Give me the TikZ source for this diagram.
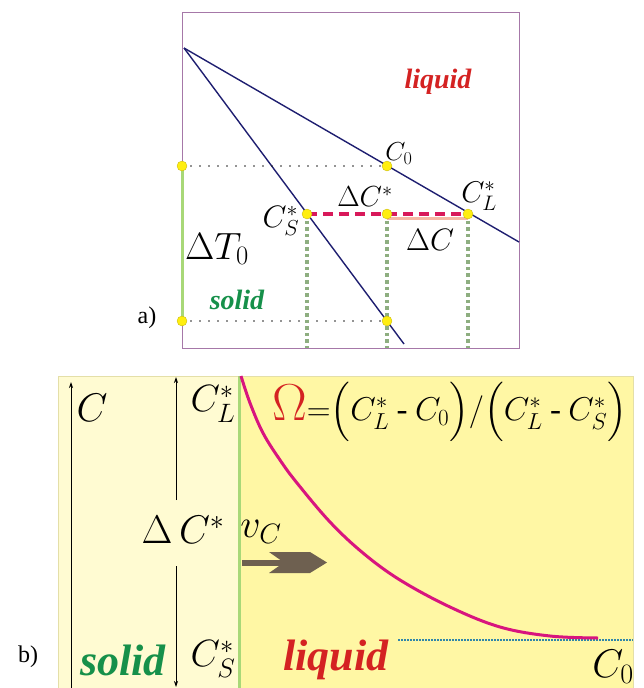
\RequirePackage{fix-cm}
\documentclass[tikz,border=0pt]{standalone}
\usepackage{amsmath,amssymb}
\usepackage{fontspec}
\setmainfont{Liberation Serif}
\usetikzlibrary{arrows.meta,positioning,calc}
\definecolor{framepurple}{HTML}{A678A8}
\definecolor{linenavy}{HTML}{1E1E70}
\definecolor{dotyellow}{HTML}{FFEE10}
\definecolor{bargreen}{HTML}{A8D878}
\definecolor{dropgreen}{HTML}{8EAE80}
\definecolor{gapred}{HTML}{D8195A}
\definecolor{salmon}{HTML}{F5B8A4}
\definecolor{liqred}{HTML}{D42222}
\definecolor{solgreen}{HTML}{16904A}
\definecolor{solfill}{HTML}{FFFBD2}
\definecolor{liqfill}{HTML}{FFF7A4}
\definecolor{framey}{HTML}{E4DFA8}
\definecolor{curvemag}{HTML}{D8157E}
\definecolor{dotblue}{HTML}{2F86AA}
\definecolor{arrbrown}{HTML}{6E6050}
\newcommand{\fsz}[1]{\fontsize{#1}{#1}\selectfont}
\newcommand{\shortminus}{\mathbin{\mbox{-}}}
\tikzset{
  mlabel/.style={inner sep=0pt, text=black},
  phase/.style={inner sep=0pt, font=\bfseries\itshape},
  ypt/.style={circle, fill=dotyellow, draw=dotyellow!75!black, line width=0.3pt,
    inner sep=0pt, minimum size=10pt},
  guide/.style={line width=1.6pt, line cap=round, dash pattern=on 0pt off 9pt, draw=black!85},
  drop/.style={line width=3.6pt, dash pattern=on 3.6pt off 3pt, draw=dropgreen},
  gapline/.style={line width=3.6pt, dash pattern=on 10pt off 6pt, draw=gapred},
  axisln/.style={-{Stealth[length=6pt, width=4pt]}, line width=0.8pt, draw=black},
}
\begin{document}
\begin{tikzpicture}[x=1pt, y=-1pt]
  \useasboundingbox (0,0) rectangle (644,688);
  % ---- a) phase diagram
  \draw[framepurple, line width=1pt] (182,12) rectangle (519,348);
  \coordinate (apex) at (184,48);
  \coordinate (liqEnd) at (519,242);
  \coordinate (solEnd) at (404,344);
  \draw[linenavy, line width=1.4pt] (apex) -- (liqEnd);
  \draw[linenavy, line width=1.4pt] (apex) -- (solEnd);
  \coordinate (tTop) at (182,166);
  \coordinate (tBot) at (182,321);
  \coordinate (pC0) at (387,166);
  \coordinate (pBot) at (387,321);
  \coordinate (pCs) at (307,214);
  \coordinate (pMid) at (387,214);
  \coordinate (pCl) at (468,214);
  \draw[guide] (tTop) -- (pC0);
  \draw[guide] (tBot) -- (pBot);
  \draw[bargreen, line width=3pt] (tTop) -- (tBot);
  \foreach \p in {pCs, pMid, pCl}
    \draw[drop] (\p) -- (\p |- 0,348);
  \draw[salmon, line width=3pt] ($(pMid)+(0,4)$) -- ($(pCl)+(0,4)$);
  \draw[gapline] (pCs) -- (pCl);
  \foreach \p in {tTop, tBot, pC0, pBot, pCs, pMid, pCl}
    \node[ypt] at (\p) {};
  \node[phase, text=liqred, font=\fsz{28}\bfseries\itshape] (liqA) at (438,82) {liquid};
  \node[phase, text=solgreen, font=\fsz{28}\bfseries\itshape] (solA) at (237,300) {solid};
  \node[mlabel, font=\fsz{26}] (lC0) at (399,154) {$C_0$};
  \node[mlabel, font=\fsz{30}] (lCl) at (479,196) {$C_L^*$};
  \node[mlabel, font=\fsz{31}] (lCs) at (281,221) {$C_S^*$};
  \node[mlabel, font=\fsz{29}] (ldCs) at (365,197) {$\Delta C^*$};
  \node[mlabel, font=\fsz{31}] (ldC) at (430,240) {$\Delta C$};
  \node[mlabel, font=\fsz{38}] (ldT) at (217,249) {$\Delta T_0$};
  \node[mlabel, font=\fsz{24}] (tagA) at (147,318) {a)};
  % ---- b) concentration profile
  \fill[solfill] (58,376) rectangle (239,688);
  \fill[liqfill] (239,376) rectangle (633,688);
  \draw[framey, line width=1pt] (58,688) -- (58,376) -- (633,376) -- (633,688);
  \draw[bargreen, line width=3pt] (239,376) -- (239,688);
  \coordinate (axBot) at (71,688);
  \coordinate (axTop) at (71,382);
  \draw[axisln] (axBot) -- (axTop);
  \node[mlabel, font=\fsz{40}] (lC) at (92,408) {$C$};
  \node[mlabel, font=\fsz{38}] (lClb) at (213,404) {$C_L^*$};
  \node[mlabel, font=\fsz{40}] (ldCsb) at (183,530) {$\Delta\, C^*$};
  \coordinate (dimUp) at (176,500);
  \coordinate (dimTop) at (176,377);
  \coordinate (dimDn) at (176,566);
  \coordinate (dimBot) at (176,687);
  \draw[axisln] (dimUp) -- (dimTop);
  \draw[axisln] (dimDn) -- (dimBot);
  \node[mlabel, font=\fsz{38}] (lCsb) at (213,659) {$C_S^*$};
  \node[phase, text=solgreen, font=\fsz{44}\bfseries\itshape] (solB) at (123,660) {solid};
  \node[phase, text=liqred, font=\fsz{44}\bfseries\itshape] (liqB) at (336,660) {liquid};
  \node[mlabel, font=\fsz{40}] (lvC) at (261,532) {$v_C$};
  \fill[arrbrown] (242,559.5) rectangle (286,565.5);
  \fill[arrbrown] (269,552) -- (310,552) -- (327,562.5) -- (310,573) -- (269,573) -- (284,562.5) -- cycle;
  \coordinate (c0Start) at (398,640);
  \coordinate (c0End) at (633,640);
  \draw[dotblue, line width=1.6pt, dash pattern=on 1.6pt off 1.4pt] (c0Start) -- (c0End);
  \draw[curvemag, line width=3pt] plot[smooth, tension=0.6] coordinates {
    (241,376) (250,403) (263,433) (280,460) (297,483) (330,522) (363,553)
    (400,580) (450,607) (500,627) (550,636) (598,638)};
  \node[mlabel, font=\fsz{40}] (lC0b) at (613,667) {$C_0$};
  \node[mlabel, font=\fsz{33}, anchor=west] (omega) at (272,412)
    {\textcolor{liqred}{\fsz{52}$\Omega$}${=}\Bigl(C_L^* \shortminus C_0\Bigr)/\Bigl(C_L^* \shortminus C_S^*\Bigr)$};
  \node[mlabel, font=\fsz{24}] (tagB) at (28,657) {b)};
\end{tikzpicture}
\end{document}
